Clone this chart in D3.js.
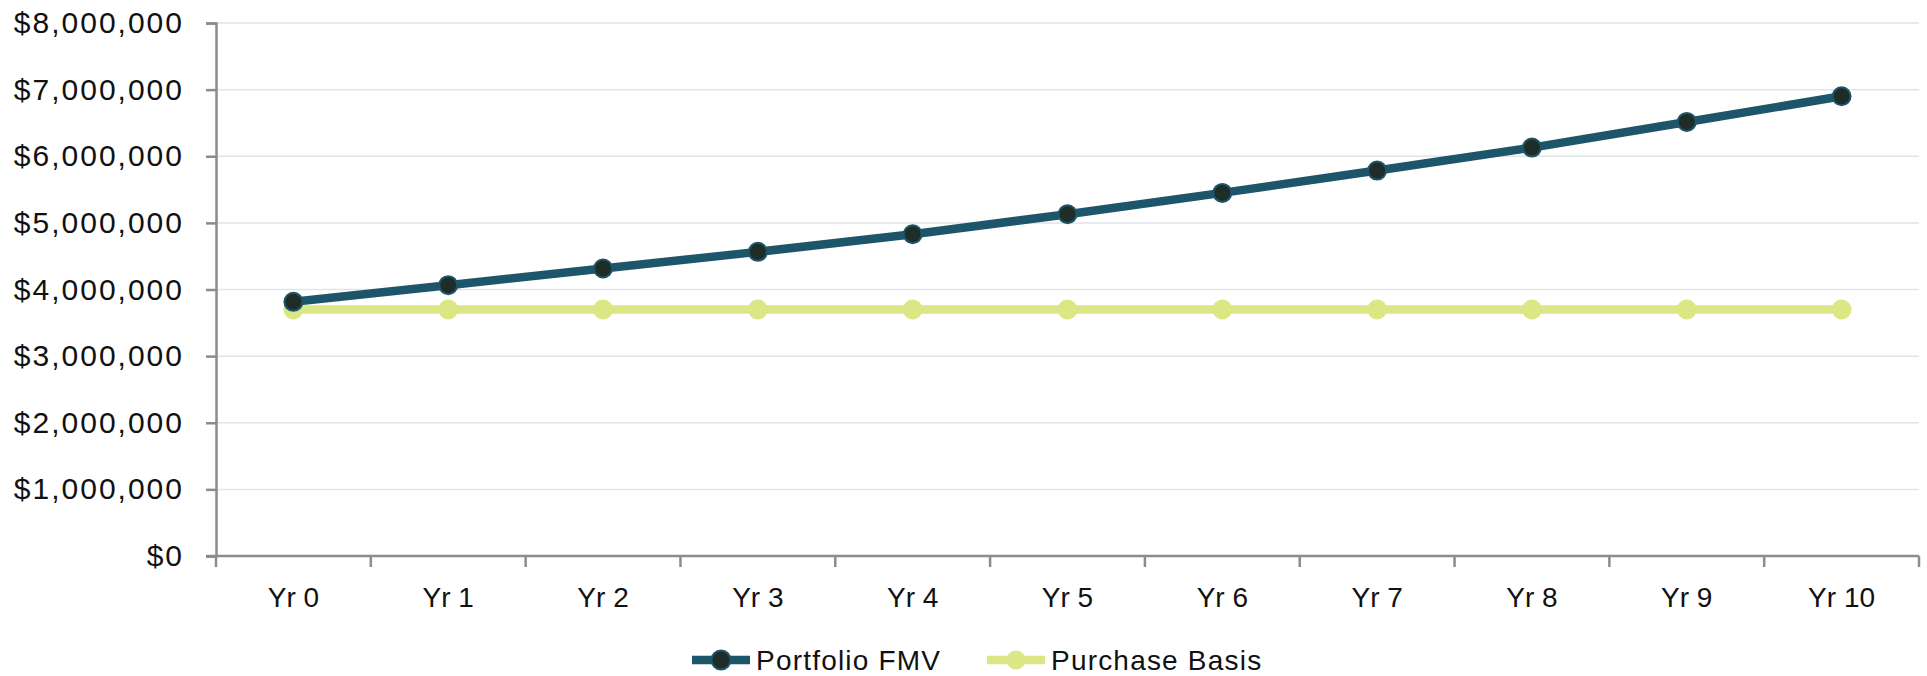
<!DOCTYPE html>
<html>
<head>
<meta charset="utf-8">
<script src="https://cdn.jsdelivr.net/npm/d3@7"></script>
<style>
  html, body { margin: 0; padding: 0; background: #ffffff; }
  svg { display: block; font-family: "Liberation Sans", Arial, sans-serif; }
</style>
</head>
<body>
<svg id="chart" width="1927" height="676"></svg>
<script>
// Portfolio value vs. purchase basis over a ten-year horizon
const years = ["Yr 0", "Yr 1", "Yr 2", "Yr 3", "Yr 4", "Yr 5", "Yr 6", "Yr 7", "Yr 8", "Yr 9", "Yr 10"];
const portfolioFMV = [3815000, 4065000, 4315000, 4565000, 4830000, 5130000, 5450000, 5785000, 6130000, 6515000, 6900000];
const purchaseBasis = [3700000, 3700000, 3700000, 3700000, 3700000, 3700000, 3700000, 3700000, 3700000, 3700000, 3700000];
const yTicks = [0, 1000000, 2000000, 3000000, 4000000, 5000000, 6000000, 7000000, 8000000];
const seriesNames = ["Portfolio FMV", "Purchase Basis"];

const W = 1927, H = 676;
const margin = { top: 23, right: 8, bottom: 120, left: 216 };
const svg = d3.select("#chart");

const x = d3.scaleBand().domain(years).range([margin.left, W - margin.right]);
const y = d3.scaleLinear().domain([0, 8000000]).range([H - margin.bottom, margin.top]);
const fmt = d3.format("$,.0f");

// Horizontal gridlines
svg.append("g")
  .selectAll("line")
  .data(yTicks.filter(d => d > 0))
  .join("line")
  .attr("x1", margin.left).attr("x2", W - margin.right)
  .attr("y1", d => y(d)).attr("y2", d => y(d))
  .attr("stroke", "#dfe5ec").attr("stroke-width", 1.5);

// Y axis
const yAxis = svg.append("g")
  .attr("transform", `translate(${margin.left},0)`)
  .call(d3.axisLeft(y).tickValues(yTicks).tickFormat(fmt).tickSize(10).tickPadding(22));
yAxis.select(".domain").attr("stroke", "#8c8c8c").attr("stroke-width", 2.5);
yAxis.selectAll(".tick line").attr("stroke", "#8c8c8c").attr("stroke-width", 2.5);
yAxis.selectAll(".tick text")
  .attr("fill", "#111").style("font-size", "30px").style("letter-spacing", "2px")
  .attr("font-family", null);

// X axis with tick marks on category boundaries
const xAxisG = svg.append("g").attr("transform", `translate(0,${y(0)})`);
xAxisG.append("line")
  .attr("x1", margin.left - 10).attr("x2", W - margin.right)
  .attr("stroke", "#8c8c8c").attr("stroke-width", 2.5);
const boundaries = years.map(d => x(d)).concat([x(years[years.length - 1]) + x.bandwidth()]);
xAxisG.selectAll("line.bound")
  .data(boundaries)
  .join("line").attr("class", "bound")
  .attr("x1", d => d).attr("x2", d => d)
  .attr("y1", 0).attr("y2", 11)
  .attr("stroke", "#8c8c8c").attr("stroke-width", 2.5);
xAxisG.selectAll("text")
  .data(years)
  .join("text")
  .attr("x", d => x(d) + x.bandwidth() / 2)
  .attr("y", 51)
  .attr("text-anchor", "middle")
  .attr("fill", "#111")
  .style("font-size", "28px")
  .text(d => d);

const cx = d => x(d) + x.bandwidth() / 2;
const line = d3.line().x((d, i) => cx(years[i])).y(d => y(d));

// Purchase basis series
svg.append("path")
  .datum(purchaseBasis)
  .attr("d", line)
  .attr("fill", "none").attr("stroke", "#dbe685").attr("stroke-width", 8.5);
svg.append("g").selectAll("circle")
  .data(purchaseBasis)
  .join("circle")
  .attr("cx", (d, i) => cx(years[i])).attr("cy", d => y(d))
  .attr("r", 10).attr("fill", "#dbe685");

// Portfolio FMV series
svg.append("path")
  .datum(portfolioFMV)
  .attr("d", line)
  .attr("fill", "none").attr("stroke", "#1d566b").attr("stroke-width", 8.5);
svg.append("g").selectAll("circle")
  .data(portfolioFMV)
  .join("circle")
  .attr("cx", (d, i) => cx(years[i])).attr("cy", d => y(d))
  .attr("r", 9).attr("fill", "#1f2d28").attr("stroke", "#1d566b").attr("stroke-width", 2);

// Legend
const legendItems = [
  { name: seriesNames[0], x: 692, stroke: "#1d566b", fill: "#1f2d28", outline: "#1d566b" },
  { name: seriesNames[1], x: 987, stroke: "#dbe685", fill: "#dbe685", outline: "none" }
];
const legend = svg.append("g").attr("transform", "translate(0,660)");
const li = legend.selectAll("g").data(legendItems).join("g")
  .attr("transform", d => `translate(${d.x},0)`);
li.append("line")
  .attr("x1", 0).attr("x2", 58)
  .attr("stroke", d => d.stroke).attr("stroke-width", 8.5);
li.append("circle")
  .attr("cx", 29).attr("r", 9.5)
  .attr("fill", d => d.fill).attr("stroke", d => d.outline).attr("stroke-width", 2);
li.append("text")
  .attr("x", 64).attr("y", 0).attr("dy", "0.35em")
  .attr("fill", "#111").style("font-size", "28px").style("letter-spacing", "1.2px")
  .text(d => d.name);
</script>
</body>
</html>
